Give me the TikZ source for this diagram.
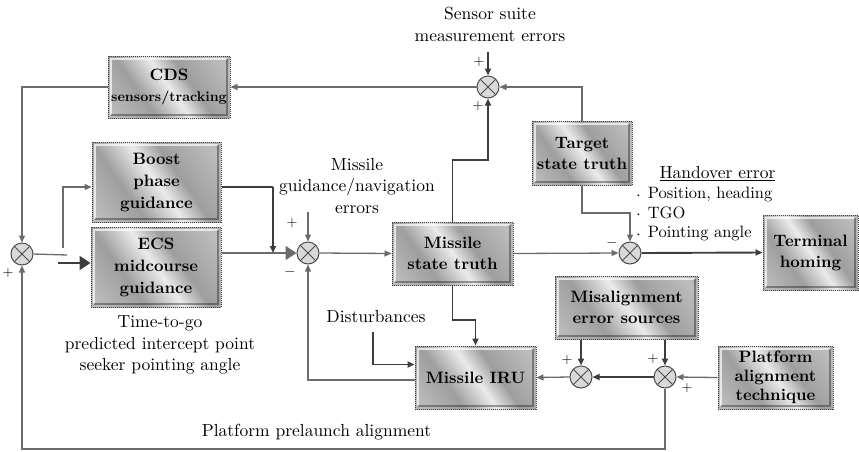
\documentclass[tikz,border=0pt]{standalone}
\usepackage{fontspec}
\setmainfont{lmroman10-regular.otf}[BoldFont=lmroman10-bold.otf]
\usetikzlibrary{arrows.meta}

% metallic fill for the blocks
\definecolor{chA}{gray}{0.48}
\definecolor{chB}{gray}{0.74}
\definecolor{chC}{gray}{0.62}
\definecolor{chD}{gray}{0.92}
\definecolor{wireC}{gray}{0.42}
\definecolor{wireD}{gray}{0.24}
\pgfdeclarehorizontalshading{chrome}{100bp}{color(0bp)=(chA); color(18bp)=(chB); color(36bp)=(chC); color(50bp)=(chD); color(60bp)=(chC); color(80bp)=(chB); color(100bp)=(chA)}

% list bullet, sitting a little low
\newcommand{\lowdot}{\raisebox{-0.35ex}{·}\,}

\tikzset{
  blk/.style={rectangle, shading=chrome, shading angle=35, draw=black!75,
    line width=1pt, densely dotted, inner sep=0pt, align=center,
    font=\fontsize{16.5}{21}\selectfont\bfseries,
    path picture={
      % raised bevel just inside the dotted frame
      \draw[white, opacity=0.7, line width=1.6pt, solid]
        ([shift={(3pt,3pt)}]path picture bounding box.south west)
        -- ([shift={(3pt,-3pt)}]path picture bounding box.north west)
        -- ([shift={(-3pt,-3pt)}]path picture bounding box.north east);
      \draw[black, opacity=0.35, line width=1.6pt, solid]
        ([shift={(-3pt,-3pt)}]path picture bounding box.north east)
        -- ([shift={(-3pt,3pt)}]path picture bounding box.south east)
        -- ([shift={(3pt,3pt)}]path picture bounding box.south west);}},
  sumnode/.style={circle, draw=black!70, fill=black!15, line width=1pt,
    minimum size=22pt, inner sep=0pt,
    path picture={\draw[black!70, line width=1pt]
      (path picture bounding box.north east) -- (path picture bounding box.south west)
      (path picture bounding box.north west) -- (path picture bounding box.south east);}},
  lbl/.style={inner sep=0pt, align=center, font=\fontsize{17.5}{21.5}\selectfont},
  sgn/.style={inner sep=0pt, font=\fontsize{14}{14}\selectfont},
  wire/.style={draw=wireC, line width=1.3pt},
  heavy/.style={draw=wireD, line width=1.9pt},
  tip/.style={-{Triangle[length=7pt,width=6pt]}},
  bigtip/.style={-{Triangle[length=11pt,width=14pt]}},
}

\begin{document}
\begin{tikzpicture}[x=1pt,y=-1pt]
\useasboundingbox (0,0) rectangle (859,451);

% blocks
\node[blk, minimum width=122pt, minimum height=62pt] (cds) at (169,87)
  {CDS\\{\fontsize{14}{18}\selectfont sensors/tracking}};
\node[blk, minimum width=129pt, minimum height=80pt,
  font=\fontsize{16.5}{22}\selectfont\bfseries] (boost) at (156.5,182) {Boost\\phase\\guidance};
\node[blk, minimum width=130pt, minimum height=80pt,
  font=\fontsize{16.5}{22}\selectfont\bfseries] (ecs) at (156,267) {ECS\\midcourse\\guidance};
\node[blk, minimum width=121pt, minimum height=63pt] (mst) at (452.5,253.5) {Missile\\state truth};
\node[blk, minimum width=100pt, minimum height=64pt] (tgt) at (582,153) {Target\\state truth};
\node[blk, minimum width=95pt, minimum height=75pt] (term) at (810.5,252.5) {Terminal\\homing};
\node[blk, minimum width=143pt, minimum height=63pt] (mis) at (626.5,307.5) {Misalignment\\error sources};
\node[blk, minimum width=121pt, minimum height=63pt] (iru) at (475.5,377.5) {Missile IRU};
\node[blk, minimum width=115pt, minimum height=63pt,
  font=\fontsize{16.5}{19}\selectfont\bfseries] (plat) at (775.5,377.5) {Platform\\alignment\\technique};

% summing junctions
\node[sumnode] (sL) at (22,254) {};
\node[sumnode] (sM) at (308,253) {};
\node[sumnode] (sT) at (488,87) {};
\node[sumnode] (sH) at (630,253) {};
\node[sumnode] (sA) at (581,377) {};
\node[sumnode] (sB) at (665,377) {};

% text labels
\node[lbl] (sens) at (490,24.5) {Sensor suite\\measurement errors};
\node[lbl] (mgn) at (357,186) {Missile\\guidance/navigation\\errors};
\node[lbl] (hand) at (717.5,174) {\underline{Handover error}};
\node[lbl, anchor=west, align=left, font=\fontsize{16.5}{19.5}\selectfont] (hlist) at (632,214)
  {\lowdot Position, heading\\\lowdot TGO\\\lowdot Pointing angle};
\node[lbl] (ttg) at (160,345) {Time-to-go\\predicted intercept point\\seeker pointing angle};
\node[lbl] (dist) at (376,317) {Disturbances};
\node[lbl] (ppa) at (316.5,432) {Platform prelaunch alignment};

% signs at the junctions
\node[sgn] at (8,273) {+};
\node[sgn] at (479,62) {+};
\node[sgn] at (478,106) {+};
\node[sgn] at (292,223) {+};
\node[sgn] at (290,272) {$-$};
\node[sgn] at (612,243) {$-$};
\node[sgn] at (567,360) {+};
\node[sgn] at (653,359) {+};
\node[sgn] at (687,388) {+};

% free ends and bends
\coordinate (swA) at (67,255);
\coordinate (swB) at (63,248);
\coordinate (swC) at (58,263);
\coordinate (bj) at (273,187);
\coordinate (gIn) at (308,212);
\coordinate (sIn) at (488,52);
\coordinate (jT) at (470,160);
\coordinate (jH) at (600,213);
\coordinate (jI) at (460,320);
\coordinate (dS) at (373,332);
\coordinate (jB) at (300,449);

% sensor loop
\draw[wire, tip] (cds.west) -| (sL.north);
\draw[wire] (sL.east) -- (swA);
\draw[wire, tip] (swB) |- ([yshift=-5pt]boost.west);
\draw[heavy, bigtip] (swC) -- (ecs.west |- swC);

% guidance into the missile
\draw[heavy] ([yshift=-5pt]boost.east) -| (bj);
\draw[heavy, tip] (bj) -- (bj |- sM.west);
\draw[wire, bigtip] (ecs.east |- sM.west) -- (sM.west);
\draw[wire, tip] (gIn) -- (sM.north);
\draw[wire, tip] (sM.east) -- (mst.west);

% measurement path
\draw[heavy, tip] (mst.north) |- (jT) -| (sT.south);
\draw[heavy, tip] (sIn) -- (sT.north);
\draw[wire, tip] (tgt.north) |- (sT.east);
\draw[wire, tip] (sT.west) -- (cds.east);

% handover
\draw[wire, tip] (tgt.south) |- (jH) -| (sH.north);
\draw[wire, tip] (mst.east) -- (sH.west);
\draw[heavy, tip] (sH.east) -- (term.west);

% inertial path
\draw[heavy, tip] (mst.south) |- (jI) -| (iru.north);
\draw[heavy, tip] (dS) |- ([yshift=13pt]iru.west);
\draw[wire, tip] ([yshift=-2.5pt]iru.west) -| (sM.south);
\draw[heavy, tip] (sA.north |- mis.south) -- (sA.north);
\draw[heavy, tip] (sB.north |- mis.south) -- (sB.north);
\draw[wire, tip] (plat.west) -- (sB.east);
\draw[heavy, tip] (sB.west) -- (sA.east);
\draw[wire, tip] (sA.west) -- (iru.east);

% prelaunch alignment return
\draw[wire, tip] (sB.south) |- (jB) -| (sL.south);
\end{tikzpicture}
\end{document}
